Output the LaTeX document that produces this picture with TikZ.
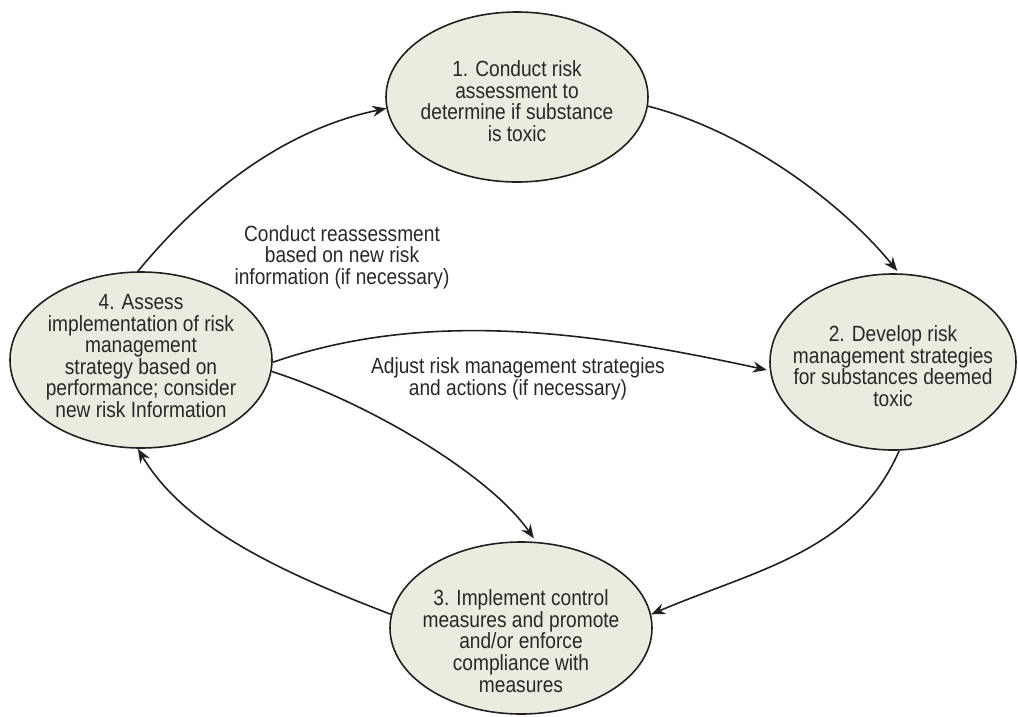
\documentclass[tikz,border=0pt]{standalone}
\usepackage{fontspec}
\setmainfont{Liberation Sans}[FakeStretch=0.87]
\usetikzlibrary{shapes.geometric,arrows.meta}
\definecolor{ellfill}{RGB}{235,235,224}
\definecolor{linecol}{RGB}{35,31,32}
\definecolor{txtcol}{RGB}{40,40,40}
\tikzset{
  ell/.style={ellipse,draw=linecol,fill=ellfill,line width=1.6pt,inner sep=0pt},
  txt/.style={align=center,text=txtcol,inner sep=0pt,font=\fontsize{22}{21.6}\selectfont},
  conn/.style={draw=linecol,line width=1.6pt,-{Stealth[length=14pt,width=11pt]}}
}
\begin{document}
\begin{tikzpicture}[x=1pt,y=-1pt]
\useasboundingbox (0,0) rectangle (1018,716);
% ellipses
\node[ell,minimum width=262pt,minimum height=170pt] (e1) at (517,97) {};
\node[ell,minimum width=246pt,minimum height=176pt] (e2) at (893,362) {};
\node[ell,minimum width=262pt,minimum height=172pt] (e3) at (521,628) {};
\node[ell,minimum width=262pt,minimum height=176pt] (e4) at (141,360) {};
% texts
\node[txt] (t1) at (517,101) {1. Conduct risk\\assessment to\\determine if substance\\is toxic};
\node[txt] (t2) at (893,366) {2. Develop risk\\management strategies\\for substances deemed\\toxic};
\node[txt] (t3) at (521,641) {3. Implement control\\measures and promote\\and/or enforce\\compliance with\\measures};
\node[txt] (t4) at (141,356) {4. Assess\\implementation of risk\\management\\strategy based on\\performance; consider\\new risk Information};
\node[txt] (l1) at (342,257) {Conduct reassessment\\based on new risk\\information (if necessary)};
\node[txt] (l2) at (518,379) {Adjust risk management strategies\\and actions (if necessary)};
% connectors
\draw[conn] (e4.92) .. controls (196,201) and (277,131) .. (e1.185);
\draw[conn,shorten >=3pt] (e1.-4) .. controls (745,131) and (841,202) .. (e2.86);
\draw[conn] (e2.274) .. controls (855,552) and (755,570) .. (e3.6);
\draw[conn] (e3.174) .. controls (286,574) and (185,529) .. (e4.268);
\draw[conn,shorten >=3pt] (e4.-1) .. controls (432,307) and (600,334) .. (e2.184);
\draw[conn,shorten >=4pt] (e4.-5) .. controls (367,402) and (489,474) .. (e3.80);
\end{tikzpicture}
\end{document}
